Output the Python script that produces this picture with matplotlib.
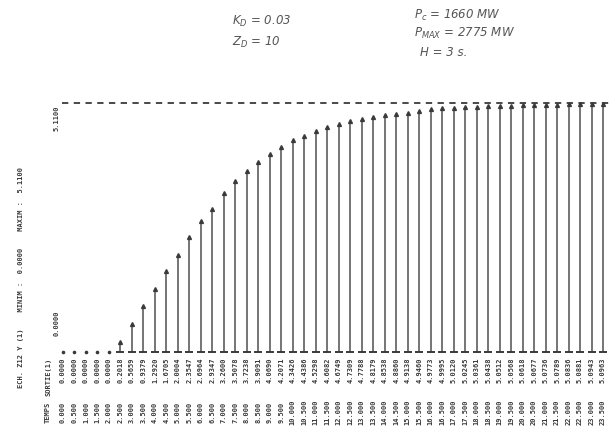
import numpy as np
import matplotlib
matplotlib.use('Agg')
import matplotlib.pyplot as plt

# Data (time step 0.5 s)
temps = np.arange(48) * 0.5
sortie = [0.0, 0.0, 0.0, 0.0, 0.0,
          0.2018, 0.5659, 0.9379, 1.2920, 1.6705, 2.0004, 2.3547, 2.6964,
          2.9347, 3.2600, 3.5078, 3.7238, 3.9091, 4.0690, 4.2071, 4.3426,
          4.4386, 4.5298, 4.6082, 4.6749, 4.7309, 4.7788, 4.8179, 4.8538,
          4.8860, 4.9138, 4.9460, 4.9773, 4.9995, 5.0120, 5.0245, 5.0361,
          5.0438, 5.0512, 5.0568, 5.0618, 5.0677, 5.0736, 5.0789, 5.0836,
          5.0881, 5.0943, 5.0963]
y_min = 0.0
y_max = 5.11
notes_left = ['K$_D$ = 0.03', 'Z$_D$ = 10']
notes_right = ['P$_c$ = 1660 MW', 'P$_{MAX}$ = 2775 MW', 'H = 3 s.']

ink = '#3a3a3a'
stem_col = '#6a6a6a'
ft = dict(family='DejaVu Sans Mono', fontsize=5, fontweight='bold', color=ink)

fig = plt.figure(figsize=(6.16, 4.28), dpi=100)
W, H = 616, 428

# axes: x maps time, y maps value; 0 at px 352, 5.11 at px 103
px_per_unit = (352 - 103) / (y_max - y_min)
ax = fig.add_axes([57 / W, 0, (609 - 57) / W, (428 - 95) / H])
ax.set_xlim(-0.26, 23.76)
ax.set_ylim(-(428 - 352) / px_per_unit, (352 - 95) / px_per_unit)
ax.axis('off')

sortie = np.asarray(sortie)
nz = sortie > 0

# dashed max line
ax.hlines(y_max, temps[0] - 0.05, temps[-1] + 0.25, colors=ink, lw=1.3,
          linestyles=(0, (3.5, 3)))

# stems
ax.vlines(temps[nz], y_min, sortie[nz], colors=stem_col, lw=1.3)
ax.plot(temps[nz], sortie[nz], ls='none', marker='^', ms=2.8, color=ink)
ax.plot(temps[nz], np.zeros(nz.sum()), ls='none', marker='_', ms=6, mew=1.4, color=ink)
ax.plot(temps[~nz], np.zeros((~nz).sum()), ls='none', marker='o', ms=1.6, color=ink)

# axis labels on the plot
ax.text(-0.26, y_max - 0.05, '%.4f' % y_max, rotation=90, ha='center', va='top', **ft)
ax.text(-0.26, y_min + 0.6, '%.4f' % y_min, rotation=90, ha='center', va='center', **ft)

# table rows
row_val = -(370 - 352) / px_per_unit
row_t = -(412 - 352) / px_per_unit
for t, v in zip(temps, sortie):
    ax.text(t, row_val, '%.4f' % v, rotation=90, ha='center', va='center', **ft)
    ax.text(t, row_t, '%.3f' % t, rotation=90, ha='center', va='center', **ft)
ax.text(-0.65, row_val - 0.15, 'SORTIE(1)', rotation=90, ha='center', va='center', **ft)
ax.text(-0.65, row_t, 'TEMPS', rotation=90, ha='center', va='center', **ft)

# left legend of the printout
fig.text(21 / W, 1 - 277 / H,
         'ECH. Z12 Y (1)    MINIM :  %.4f    MAXIM :  %.4f' % (y_min, y_max),
         rotation=90, ha='center', va='center', **ft)

# handwritten notes
hand = dict(fontsize=8.5, color='#555555', style='italic', family='DejaVu Sans')
fig.text(232 / W, 1 - 21 / H, notes_left[0], ha='left', va='center', **hand)
fig.text(232 / W, 1 - 42 / H, notes_left[1], ha='left', va='center', **hand)
fig.text(414 / W, 1 - 15 / H, notes_right[0], ha='left', va='center', **hand)
fig.text(414 / W, 1 - 33 / H, notes_right[1], ha='left', va='center', **hand)
fig.text(420 / W, 1 - 52 / H, notes_right[2], ha='left', va='center', **hand)

fig.savefig('out.png', dpi=100)
